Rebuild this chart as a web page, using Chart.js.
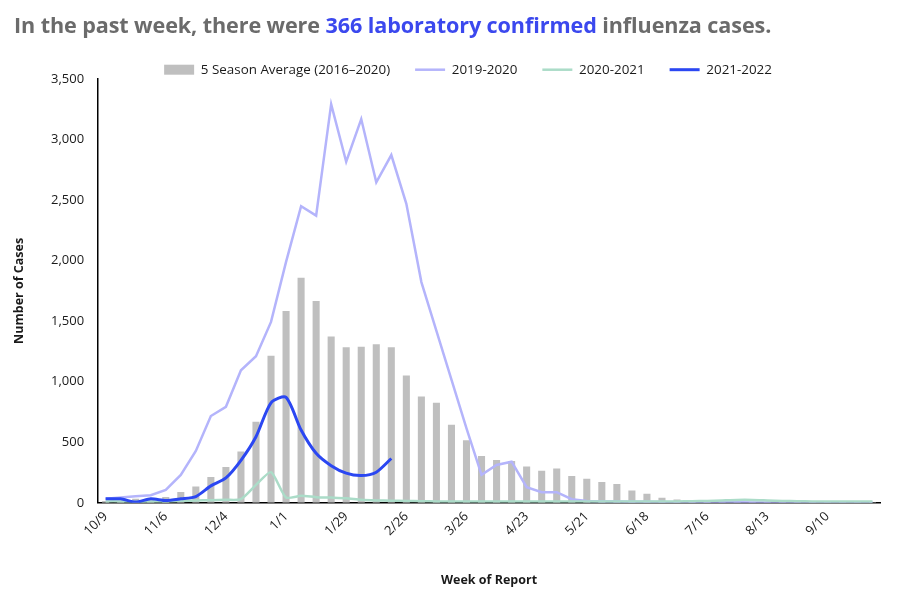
<!DOCTYPE html>
<html>
<head>
<meta charset="utf-8">
<script src="https://cdn.jsdelivr.net/npm/chart.js@4.4.0/dist/chart.umd.min.js"></script>
<style>
  html, body { margin: 0; padding: 0; background: #fff; }
  #wrap { position: relative; width: 907px; height: 594px; }
  #headline {
    position: absolute; left: 14px; top: 10px; margin: 0;
    font-family: "Open Sans", sans-serif; font-weight: 700; font-size: 21.6px;
    color: #6b6b6b; white-space: nowrap; letter-spacing: -0.1px;
  }
  #headline span { color: #3b48ee; }
  canvas { position: absolute; left: 0; top: 0; }
</style>
</head>
<body>
<div id="wrap">
  <canvas id="flu-chart" width="907" height="594"></canvas>
  <p id="headline">In the past week, there were <span>366 laboratory confirmed</span> influenza cases.</p>
</div>
<script>
// weeks of report, 10/9 through 10/1
var weeks = [
    "10/9", "10/16", "10/23", "10/30", "11/6", "11/13", "11/20", "11/27",
    "12/4", "12/11", "12/18", "12/25", "1/1", "1/8", "1/15", "1/22",
    "1/29", "2/5", "2/12", "2/19", "2/26", "3/5", "3/12", "3/19",
    "3/26", "4/2", "4/9", "4/16", "4/23", "4/30", "5/7", "5/14",
    "5/21", "5/28", "6/4", "6/11", "6/18", "6/25", "7/2", "7/9",
    "7/16", "7/23", "7/30", "8/6", "8/13", "8/20", "8/27", "9/3",
    "9/10", "9/17", "9/24", "10/1"
];

var fiveSeasonAvg = [
    15, 20, 33, 30, 49, 90, 134, 214, 296, 423, 670, 1215,
    1585, 1859, 1666, 1373, 1285, 1288, 1310, 1285, 1052, 879, 826, 645,
    516, 387, 354, 346, 299, 264, 283, 222, 198, 173, 156, 101,
    74, 41, 28, 8, 6, 5, 5, 5, 4, 4, 5, 5,
    5, 5, 5, 5
];

var season1920 = [
    33, 44, 55, 63, 107, 230, 428, 717, 793, 1095, 1211, 1494,
    1990, 2449, 2372, 3292, 2817, 3169, 2647, 2872, 2469, 1823, 1420, 1017,
    615, 231, 313, 340, 129, 88, 88, 30, 16, 12, 10, 8,
    8, 6, 5, 5, 5, 5, 4, 3, 3, 3, 3, 3,
    3, 3, 3, 3
];

var season2021 = [
    12, 12, 10, 10, 12, 15, 20, 22, 25, 30, 148, 253,
    44, 58, 47, 43, 38, 25, 20, 18, 15, 14, 12, 12,
    12, 12, 12, 12, 12, 12, 12, 12, 12, 12, 12, 12,
    12, 12, 12, 14, 16, 20, 24, 24, 20, 16, 14, 12,
    12, 12, 12, 12
];

var season2122 = [
    33, 33, 6, 33, 19, 33, 52, 140, 206, 351, 546, 826,
    871, 601, 409, 307, 245, 225, 253, 366
];

var yTicks = [0, 500, 1000, 1500, 2000, 2500, 3000, 3500];

var textColor = "#1a1a1a";
var fontFamily = "'Open Sans', sans-serif";

// legend in the original sits a bit right of centre
var legendNudge = {
    id: 'legendNudge',
    afterLayout: function(chart) {
        chart.legend.left += 24;
        chart.legend.right += 24;
    }
};

new Chart(document.getElementById("flu-chart"), {
    type: 'bar',
    plugins: [legendNudge],
    data: {
        labels: weeks,
        datasets: [
            {
                type: 'bar',
                label: "5 Season Average (2016\u20132020)",
                data: fiveSeasonAvg,
                backgroundColor: "#bfbfbf",
                borderWidth: 0,
                categoryPercentage: 1,
                barPercentage: 0.47,
                pointStyle: 'rect',
                order: 4
            },
            {
                type: 'line',
                label: "2019-2020",
                data: season1920,
                borderColor: "#b4b4fb",
                backgroundColor: "#b4b4fb",
                borderWidth: 2.5,
                pointRadius: 0,
                tension: 0,
                pointStyle: 'line',
                order: 3
            },
            {
                type: 'line',
                label: "2020-2021",
                data: season2021,
                borderColor: "#abdcc8",
                backgroundColor: "#abdcc8",
                borderWidth: 2.5,
                pointRadius: 0,
                tension: 0.2,
                pointStyle: 'line',
                order: 2
            },
            {
                type: 'line',
                label: "2021-2022",
                data: season2122,
                borderColor: "#2b47f2",
                backgroundColor: "#2b47f2",
                borderWidth: 3,
                pointRadius: 0,
                tension: 0.25,
                pointStyle: 'line',
                order: 1
            }
        ]
    },
    options: {
        responsive: false,
        animation: false,
        layout: {
            padding: { top: 38, left: 8, right: 27, bottom: 2 }
        },
        plugins: {
            tooltip: { enabled: false },
            legend: {
                display: true,
                position: 'top',
                maxHeight: 41,
                labels: {
                    usePointStyle: true,
                    pointStyleWidth: 30,
                    boxHeight: 10,
                    padding: 25,
                    color: textColor,
                    font: { family: fontFamily, size: 13.4 },
                    sort: function(a, b) { return a.datasetIndex - b.datasetIndex; }
                }
            }
        },
        scales: {
            x: {
                grid: { display: false, drawTicks: false },
                border: { display: true, color: "#000", width: 1.5 },
                ticks: {
                    autoSkip: false,
                    minRotation: 45,
                    maxRotation: 45,
                    padding: 6,
                    color: textColor,
                    font: { family: fontFamily, size: 13 },
                    callback: function(value, index) {
                        return index % 4 === 0 ? weeks[index] : '';
                    }
                },
                title: {
                    display: true,
                    text: "Week of Report",
                    color: textColor,
                    font: { family: fontFamily, size: 12.5, weight: 'bold' },
                    padding: { top: 28 }
                }
            },
            y: {
                min: 0,
                max: 3500,
                afterBuildTicks: function(scale) {
                    scale.ticks = yTicks.map(function(v) { return { value: v }; });
                },
                grid: { display: false, drawTicks: false },
                border: { display: true, color: "#000", width: 1.5 },
                ticks: {
                    padding: 14,
                    color: textColor,
                    font: { family: fontFamily, size: 13 },
                    callback: function(value) { return value.toLocaleString('en-US'); }
                },
                title: {
                    display: true,
                    text: "Number of Cases",
                    color: textColor,
                    font: { family: fontFamily, size: 12.5, weight: 'bold' },
                    padding: { bottom: 10 }
                }
            }
        }
    }
});
</script>
</body>
</html>
